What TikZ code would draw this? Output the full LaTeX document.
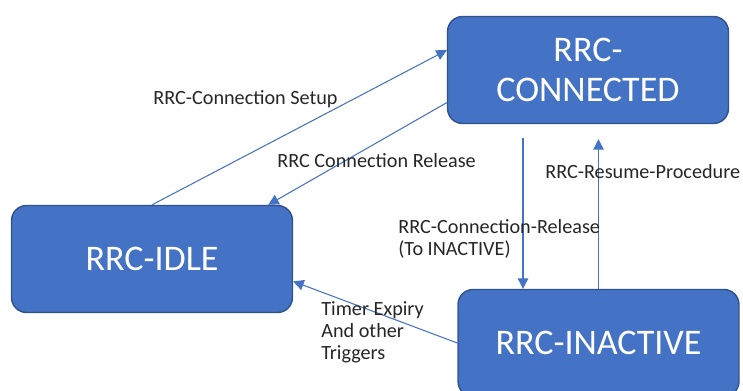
\documentclass[tikz,border=0pt]{standalone}
\usepackage{fontspec}
\setmainfont{Carlito}
\usepackage{tikz}
\usetikzlibrary{positioning,arrows.meta,calc}

\definecolor{rrcblue}{HTML}{4472C4}
\definecolor{rrcedge}{HTML}{2F528F}

\tikzset{
  statebox/.style={draw=rrcedge, line width=0.8pt, fill=rrcblue, rounded corners=0.3cm,
    minimum width=5.62cm, minimum height=2.14cm, text=white, align=center,
    font=\fontsize{20.5}{22.7}\selectfont},
  trans/.style={rrcblue, line width=0.6pt, -{Triangle[length=6pt,width=6pt]}},
  lbl/.style={anchor=west, align=left, inner sep=0pt, text=black!85,
    font=\fontsize{11.5}{12.5}\selectfont}
}

\begin{document}
\begin{tikzpicture}[x=0.02cm, y=-0.02cm]
\useasboundingbox (0,0) rectangle (743,390);
\node[statebox] (connected) at (588,70) {RRC-\\CONNECTED};
\node[statebox] (idle) at (152,259) {RRC-IDLE};
\node[statebox] (inactive) at (598.5,343) {RRC-INACTIVE};
\coordinate (relfrom) at ($(connected.south)+(-65,14)$);
\coordinate (resumeto) at ($(connected.south)+(12,15)$);
\draw[trans] (idle.north) -- (connected.172);
\draw[trans] (connected.193) -- (idle.25);
\draw[trans] (relfrom) -- (relfrom |- inactive.north);
\draw[trans] (inactive.north) -- (inactive.north |- resumeto);
\draw[trans] (inactive.west) -- (idle.-9);
\node[lbl] (lblsetup) at (153,99) {RRC-Connection Setup};
\node[lbl] (lblrelease) at (277,161) {RRC Connection Release};
\node[lbl] (lblresume) at (545,172) {RRC-Resume-Procedure};
\node[lbl] (lblinact) at (398,239) {RRC-Connection-Release\\(To INACTIVE)};
\node[lbl] (lbltimer) at (321,332) {Timer Expiry\\And other\\Triggers};
\end{tikzpicture}
\end{document}
